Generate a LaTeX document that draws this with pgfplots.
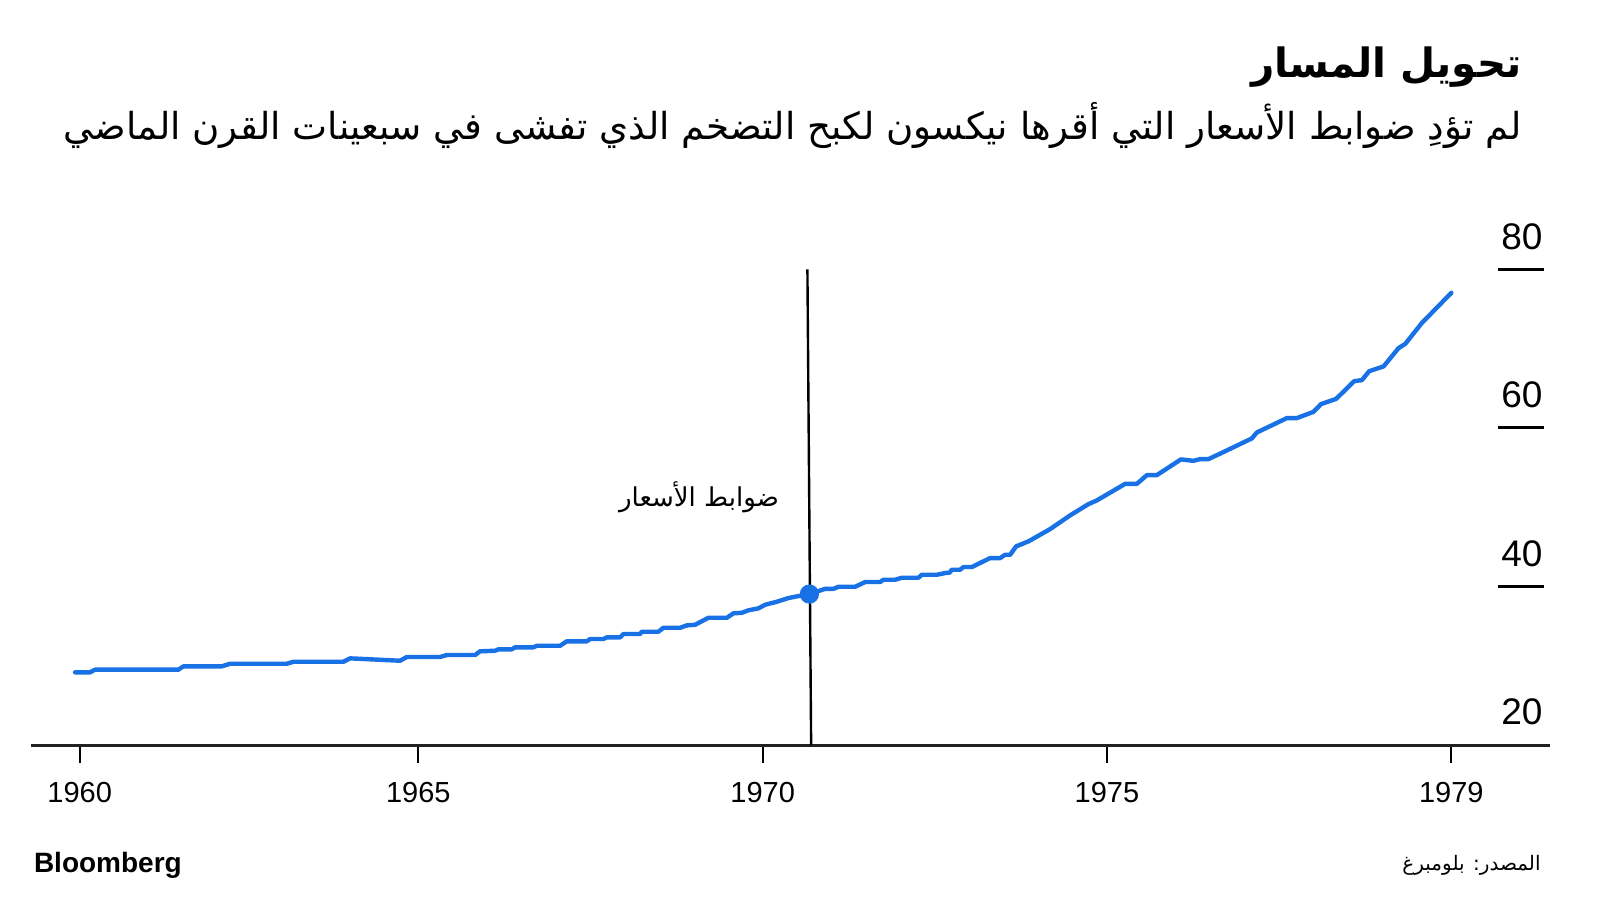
\documentclass[border=0pt]{standalone}
\usepackage{pgfplots}
\pgfplotsset{compat=1.18}
\usepackage{fontspec}
\setmainfont{Liberation Sans}
\newfontfamily\arabicfont[Script=Arabic]{DejaVu Sans}
\TeXXeTstate=1
\definecolor{cpiblue}{RGB}{25,113,230}
\definecolor{axisgray}{RGB}{34,34,34}
\begin{document}
\begin{tikzpicture}
\useasboundingbox (0,0) rectangle (800pt,450pt);
% title block
\node[anchor=east, inner sep=0pt] at (761pt,416.5pt) {\fontsize{20.2pt}{24pt}\selectfont\arabicfont\bfseries\beginR تحويل المسار\endR};
\node[anchor=east, inner sep=0pt] at (761pt,387.5pt) {\fontsize{18.6pt}{22pt}\selectfont\arabicfont\beginR لم تؤدِ ضوابط الأسعار التي أقرها نيكسون لكبح التضخم الذي تفشى في سبعينات القرن الماضي\endR};
\begin{axis}[
  at={(15.3pt,77.5pt)}, anchor=south west,
  scale only axis, width=759.7pt, height=237.8pt,
  xmin=-8.56, xmax=256.2, ymin=20, ymax=80,
  axis x line*=bottom, axis y line=none,
  x axis line style={line width=1.5pt, color=axisgray},
  xtick={0,59,119,179,239},
  xticklabels={\mbox{1960},\mbox{1965},\mbox{1970},\mbox{1975},\mbox{1979}},
  tick align=outside,
  major tick length=9pt,
  x tick style={line width=1pt, color=black},
  xticklabel style={font=\fontsize{14.5pt}{17pt}\selectfont, anchor=base, yshift=-19.5pt},
  /pgf/number format/assume math mode=true,
  ytick=\empty,
  clip=false,
]
% y ticks drawn on the right as short bars with labels above
\pgfplotsinvokeforeach{40,60,80}{
  \draw[line width=1.5pt, color=black] (axis cs:247.2,#1) -- (axis cs:255.1,#1);
}
\pgfplotsinvokeforeach{20,40,60,80}{
  \node[anchor=base, inner sep=0pt, font=\fontsize{18.5pt}{22pt}\selectfont, yshift=10pt] at (axis cs:251.3,#1) {#1};
}
% price controls line
\draw[line width=1.2pt, color=black] (axis cs:126.8,80) -- (axis cs:127.45,20);
\node[anchor=east, inner sep=0pt] at (axis cs:121.9,51.3) {\fontsize{13pt}{16pt}\selectfont\arabicfont\beginR ضوابط الأسعار\endR};
\addplot[color=cpiblue, line width=2.2pt, line join=round, line cap=round] coordinates {
(-0.82,29.17) (1.80,29.17) (2.67,29.50) (17.18,29.50) (18.06,29.92) (24.75,29.92)
(26.19,30.25) (36.08,30.25) (37.23,30.50) (45.94,30.50) (47.11,30.93) (55.82,30.63)
(56.99,31.10) (62.79,31.10) (63.96,31.35) (68.89,31.35) (69.76,31.82) (72.38,31.89)
(72.95,32.07) (75.29,32.07) (75.86,32.32) (79.05,32.32) (79.64,32.52) (83.71,32.52)
(84.87,33.08) (88.36,33.08) (88.94,33.37) (91.25,33.37) (91.84,33.58) (94.16,33.58)
(94.74,34.00) (97.65,34.00) (97.94,34.29) (100.84,34.29) (101.71,34.79) (104.63,34.79)
(105.79,35.09) (107.24,35.17) (109.55,36.05) (112.76,36.05) (113.91,36.61) (115.37,36.68)
(116.52,36.99) (118.26,37.24) (119.43,37.69) (121.47,38.07) (123.49,38.54) (124.96,38.75)
(127.15,39.04) (129.89,39.70) (131.33,39.70) (132.20,39.96) (135.12,39.96) (136.86,40.56)
(139.47,40.56) (140.05,40.85) (142.09,40.85) (143.26,41.10) (146.15,41.10) (146.74,41.48)
(149.36,41.48) (151.10,41.73) (151.55,41.73) (151.97,42.11) (153.42,42.11) (153.99,42.45)
(155.45,42.45) (158.64,43.58) (160.38,43.58) (161.25,44.00) (162.13,44.00) (163.17,45.06)
(165.32,45.69) (169.10,47.24) (172.58,48.97) (175.78,50.39) (177.24,50.86) (182.18,52.95)
(184.21,52.95) (185.96,54.05) (187.70,54.05) (191.88,56.03) (194.07,55.85) (195.24,56.07)
(196.69,56.07) (199.02,56.86) (204.25,58.68) (205.12,59.43) (210.35,61.24) (212.09,61.24)
(214.99,62.03) (216.28,63.00) (218.94,63.67) (222.08,65.90) (223.42,66.03) (224.69,67.16)
(227.19,67.76) (229.80,70.06) (230.97,70.60) (233.88,73.25) (239.00,77.04)
};
\addplot[only marks, mark=*, mark size=4.6pt, color=cpiblue] coordinates {(127.15,39.04)};
\end{axis}
% footer
\node[anchor=west, inner sep=0pt] at (16.8pt,17.5pt) {\fontsize{14pt}{17pt}\selectfont\bfseries Bloomberg};
\node[anchor=east, inner sep=0pt] at (770.5pt,17.5pt) {\fontsize{10pt}{12pt}\selectfont\arabicfont\beginR المصدر: بلومبرغ\endR};
\end{tikzpicture}
\end{document}
